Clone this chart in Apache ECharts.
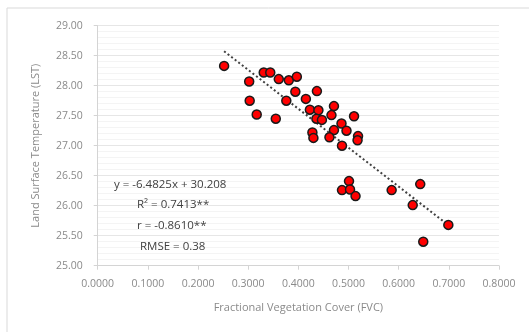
<!DOCTYPE html>
<html>
<head>
<meta charset="utf-8">
<script src="https://cdn.jsdelivr.net/npm/echarts@6/dist/echarts.min.js"></script>
<style>html,body{margin:0;padding:0;background:#fff;}#c{width:529px;height:332px;}</style>
</head>
<body>
<div id="c"></div>
<script>
var fvc = [0.252,0.331,0.344,0.302,0.361,0.381,0.397,0.394,0.437,0.303,0.376,0.415,0.317,0.355,0.423,0.440,0.436,0.447,0.428,0.430,0.471,0.466,0.511,0.486,0.496,0.471,0.462,0.487,0.519,0.518,0.501,0.487,0.503,0.514,0.586,0.643,0.628,0.699,0.649];
var lst = [28.33,28.22,28.22,28.07,28.11,28.09,28.15,27.90,27.91,27.75,27.75,27.78,27.52,27.45,27.60,27.59,27.45,27.43,27.22,27.13,27.66,27.51,27.49,27.37,27.25,27.26,27.14,27.00,27.16,27.09,26.41,26.26,26.27,26.16,26.26,26.36,26.01,25.68,25.40];
var slope = -6.4825, intercept = 30.208;
var annotations = ['y = -6.4825x + 30.208', 'R\u00b2 = 0.7413**', 'r = -0.8610**', 'RMSE = 0.38'];
var xTitle = 'Fractional Vegetation Cover (FVC)';
var yTitle = 'Land Surface Temperature (LST)';

var pts = fvc.map(function(v,i){return [v,lst[i]];});
var xmin = Math.min.apply(null,fvc), xmax = Math.max.apply(null,fvc);
var trend = [[xmin, slope*xmin+intercept],[xmax, slope*xmax+intercept]];

var font = 'Open Sans';
var annFont = '11.5px "Open Sans"';
var chart = echarts.init(document.getElementById('c'));
chart.setOption({
  animation:false,
  backgroundColor:'#fff',
  textStyle:{fontFamily:font},
  grid:{left:97.7, right:30, top:25.7, bottom:66.3},
  xAxis:{
    type:'value', min:0, max:0.8, interval:0.1,
    name:xTitle, nameLocation:'middle', nameGap:37,
    nameTextStyle:{color:'#8a8a8a', fontSize:11, fontFamily:font},
    axisLine:{show:true, lineStyle:{color:'#d4d4d4'}},
    axisTick:{show:true, length:4, lineStyle:{color:'#d4d4d4'}},
    axisLabel:{color:'#8a8a8a', fontSize:10.5, margin:13, formatter:function(v){return v.toFixed(4);}},
    splitLine:{show:false}
  },
  yAxis:{
    type:'value', min:25, max:29, interval:0.5,
    name:yTitle, nameLocation:'middle', nameGap:56, nameRotate:90,
    nameTextStyle:{color:'#8a8a8a', fontSize:11, fontFamily:font},
    axisLine:{show:true, lineStyle:{color:'#d4d4d4'}},
    axisTick:{show:true, length:4, lineStyle:{color:'#d4d4d4'}},
    axisLabel:{color:'#8a8a8a', fontSize:10.5, margin:15, formatter:function(v){return v.toFixed(2);}},
    splitLine:{show:true, lineStyle:{color:'#e6e6e6'}},
    minorTick:{show:false, splitNumber:5},
    minorSplitLine:{show:true, lineStyle:{color:'#f4f4f4'}}
  },
  graphic:[
    {type:'rect', shape:{x:7,y:8,width:540,height:340}, style:{fill:null, stroke:'#d9d9d9', lineWidth:1}, silent:true, z:-1},
    {type:'text', left:114, top:179, z:100, style:{text:annotations[0], fill:'#404040', font:annFont}},
    {type:'text', left:137, top:199, z:100, style:{text:annotations[1], fill:'#404040', font:annFont}},
    {type:'text', left:137, top:220, z:100, style:{text:annotations[2], fill:'#404040', font:annFont}},
    {type:'text', left:140, top:241, z:100, style:{text:annotations[3], fill:'#404040', font:annFont}}
  ],
  series:[
    {type:'line', data:trend, symbol:'none', silent:true, z:1,
     lineStyle:{color:'#404040', width:2, type:[2,2.5]}},
    {type:'scatter', data:pts, symbol:'circle', symbolSize:9, z:3,
     itemStyle:{color:'#ff0000', borderColor:'#1a1a1a', borderWidth:1.5, opacity:1}}
  ]
});
</script>
</body>
</html>
